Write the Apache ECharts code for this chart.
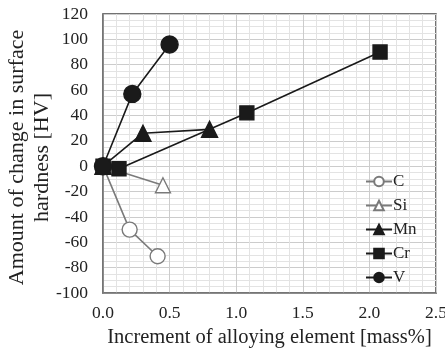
<!DOCTYPE html>
<html>
<head>
<meta charset="utf-8">
<script src="https://cdn.jsdelivr.net/npm/echarts@6/dist/echarts.min.js"></script>
<style>
  html, body { margin: 0; padding: 0; background: #fff; }
  #chart { width: 445px; height: 350px; }
</style>
</head>
<body>
<div id="chart"></div>
<script>
// values: [mass%, HV]
const seriesNames = ['C', 'Si', 'Mn', 'Cr', 'V'];
const dataC = [[0, 0], [0.2, -50], [0.41, -71]];
const dataSi = [[0, 0], [0.45, -15]];
const dataMn = [[0, 0], [0.3, 26], [0.8, 29]];
const dataCr = [[0, 0], [0.12, -2], [1.08, 42], [2.08, 90]];
const dataV = [[0, 0], [0.22, 57], [0.5, 96]];

const font = 'Liberation Serif, Times New Roman, serif';
const grey = '#7a7a7a';
const dark = '#1a1a1a';

const chart = echarts.init(document.getElementById('chart'));

function mk(name, data, symbol, size, color, fill) {
  return {
    name: name,
    type: 'line',
    data: data,
    symbol: symbol,
    symbolSize: size,
    showSymbol: true,
    lineStyle: { color: color, width: 1.6 },
    itemStyle: { color: fill, borderColor: color, borderWidth: 1.4 },
    emphasis: { disabled: true },
    z: 3
  };
}

chart.setOption({
  animation: false,
  backgroundColor: '#fff',
  grid: {
    left: 103, top: 14, right: 9, bottom: 57,
    containLabel: false, outerBoundsMode: 'none',
    show: true, borderColor: '#444', borderWidth: 1.5, backgroundColor: 'transparent'
  },
  legend: {
    data: seriesNames,
    orient: 'vertical',
    left: 360,
    top: 168,
    itemWidth: 26,
    itemHeight: 12,
    itemGap: 7,
    textStyle: { fontFamily: font, fontSize: 17, color: '#222', padding: [0, 0, 0, -4] }
  },
  xAxis: {
    type: 'value',
    min: 0, max: 2.5, interval: 0.5,
    name: 'Increment of alloying element [mass%]',
    nameLocation: 'middle',
    nameGap: 30,
    nameTextStyle: { fontFamily: font, fontSize: 20.5, color: '#222' },
    axisLine: { show: true, onZero: false, lineStyle: { color: '#777', width: 1.5 } },
    axisTick: { show: false },
    axisLabel: { fontFamily: font, fontSize: 17.5, color: '#222', margin: 11, formatter: v => v.toFixed(1) },
    splitLine: { show: true, lineStyle: { color: '#cccccc', width: 1 } },
    minorTick: { show: false, splitNumber: 5 },
    minorSplitLine: { show: true, lineStyle: { color: '#e3e3e3', width: 1 } }
  },
  yAxis: {
    type: 'value',
    min: -100, max: 120, interval: 20,
    name: 'Amount of change in surface\nhardness [HV]',
    nameLocation: 'middle',
    nameMoveOverlap: false,
    nameGap: 48,
    nameTextStyle: { fontFamily: font, fontSize: 22, color: '#222', lineHeight: 25, padding: [0, 8, 0, 0] },
    axisLine: { show: true, onZero: false, lineStyle: { color: '#777', width: 1.5 } },
    axisTick: { show: false },
    axisLabel: { fontFamily: font, fontSize: 17.5, color: '#222', margin: 15 },
    splitLine: { show: true, lineStyle: { color: '#cccccc', width: 1 } },
    minorTick: { show: false, splitNumber: 4 },
    minorSplitLine: { show: true, lineStyle: { color: '#e3e3e3', width: 1 } }
  },
  series: [
    mk('C', dataC, 'circle', 15, grey, '#fff'),
    mk('Si', dataSi, 'triangle', 15, grey, '#fff'),
    mk('Mn', dataMn, 'triangle', 16, dark, dark),
    mk('Cr', dataCr, 'rect', 14, dark, dark),
    mk('V', dataV, 'circle', 17, dark, dark)
  ]
});
</script>
</body>
</html>
